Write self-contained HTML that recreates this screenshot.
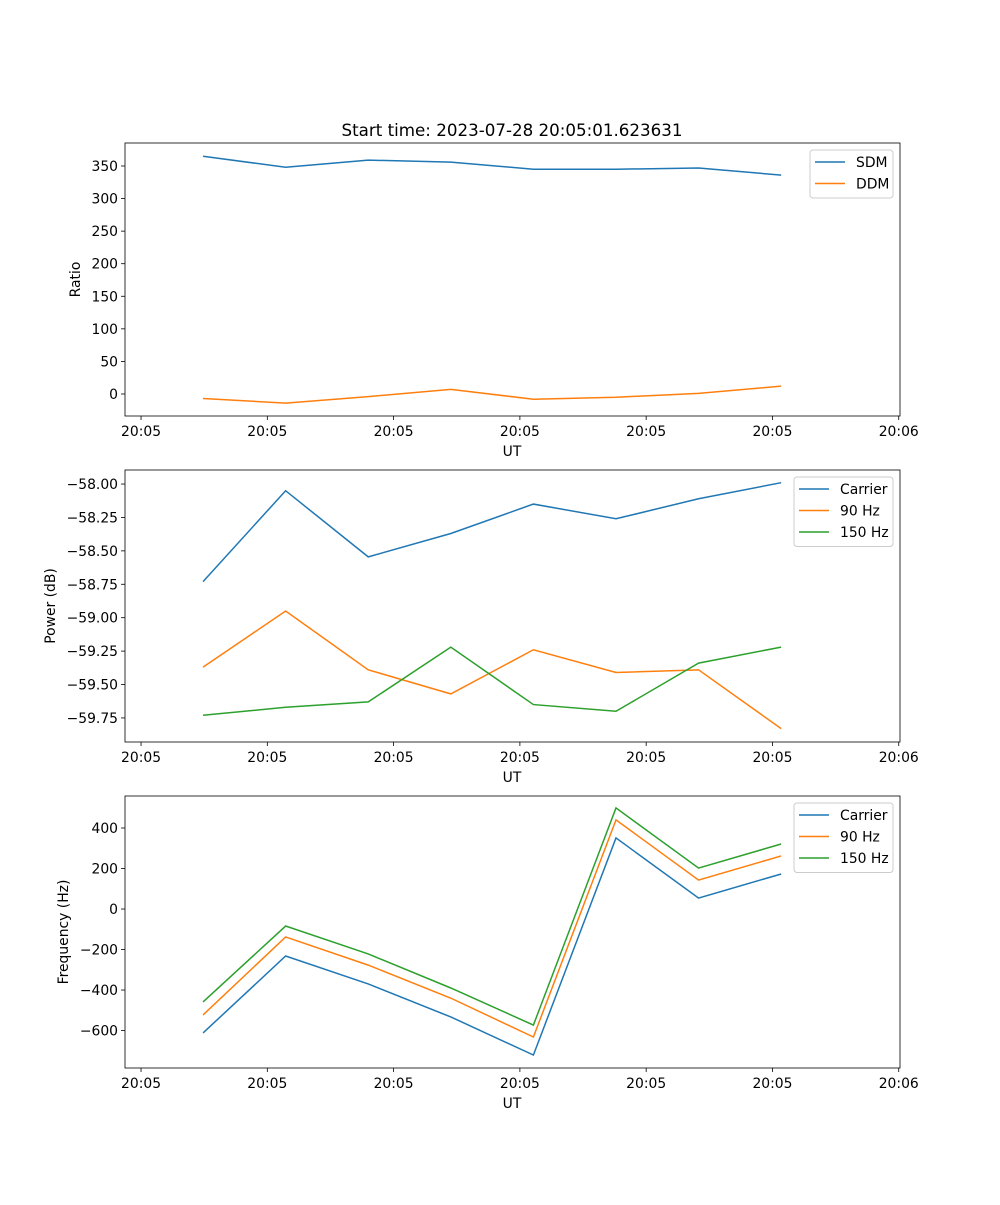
<!DOCTYPE html>
<html><head><meta charset="utf-8"><style>
body{margin:0;background:#fff;}
svg text{font-family:"DejaVu Sans","Liberation Sans",sans-serif;fill:#000;}
</style></head><body>
<svg id="chart" width="1000" height="1200" xmlns="http://www.w3.org/2000/svg"></svg>
<script>
const tickLabels = ["20:05","20:05","20:05","20:05","20:05","20:05","20:06"];
const times = [0.491,1.145,1.799,2.453,3.107,3.761,4.415,5.069];
const sdm = [365,348,359,356,345,345,347,336];
const ddm = [-7,-14,-4,7,-8,-5,1,12];
const powCarrier = [-58.73,-58.05,-58.545,-58.37,-58.15,-58.26,-58.11,-57.99];
const pow90 = [-59.37,-58.95,-59.39,-59.57,-59.24,-59.41,-59.39,-59.83];
const pow150 = [-59.73,-59.67,-59.63,-59.22,-59.65,-59.70,-59.34,-59.22];
const freqCarrier = [-612,-232,-370,-533,-721,351,54,173];
const freq90 = [-523,-138,-277,-440,-632,440,143,262];
const freq150 = [-459,-84,-222,-390,-573,499,202,321];
const ticks1 = [0,50,100,150,200,250,300,350];
const ticks2 = [-59.75,-59.5,-59.25,-59.0,-58.75,-58.5,-58.25,-58.0];
const ticks3 = [-600,-400,-200,0,200,400];

const svg=document.getElementById('chart');
const NS='http://www.w3.org/2000/svg';
function mk(tag,attrs,parent){const e=document.createElementNS(NS,tag);for(const k in attrs)e.setAttribute(k,attrs[k]);(parent||svg).appendChild(e);return e;}
const X0=125,X1=900,xmin=-0.127,xmax=6.01;
function xs(v){return X0+(v-xmin)/(xmax-xmin)*(X1-X0);}
const C=['#1f77b4','#ff7f0e','#2ca02c'];
const FS=13.9;

function panel(name,top,bot,ymin,ymax,yt,fmt,ylabel,ylx,series,names,leg){
  const g=mk('g',{});
  
  
  const ys=v=>bot-(v-ymin)/(ymax-ymin)*(bot-top);
  yt.forEach(t=>{const y=ys(t);
    const l=mk('line',{x1:X0-4,x2:X0,y1:y,y2:y,stroke:'#000','stroke-width':0.8},g);
    
    const tx=mk('text',{x:X0-7,y:y+5,'text-anchor':'end','font-size':FS},g);tx.textContent=fmt(t);
    });
  tickLabels.forEach((lab,i)=>{const x=xs(i);
    const l=mk('line',{x1:x,x2:x,y1:bot,y2:bot+4,stroke:'#000','stroke-width':0.8},g);
    
    const tx=mk('text',{x:x,y:bot+20,'text-anchor':'middle','font-size':FS},g);tx.textContent=lab;
    });
  const xl=mk('text',{x:512,y:bot+40,'text-anchor':'middle','font-size':FS},g);xl.textContent='UT';
  
  const cy=(top+bot)/2;
  const yl=mk('text',{x:0,y:0,'text-anchor':'middle','font-size':FS,transform:`translate(${ylx},${cy}) rotate(-90)`},g);yl.textContent=ylabel;
  
  series.forEach((s,k)=>{
    const p=mk('polyline',{points:s.map((v,i)=>xs(times[i])+','+ys(v)).join(' '),fill:'none',stroke:C[k],'stroke-width':1.5},g);
    
    });
  const fr=mk('rect',{x:X0,y:top,width:X1-X0,height:bot-top,fill:'none',stroke:'#000','stroke-width':0.8},g);
  
  const lg=mk('g',{},g);
  
  mk('rect',{x:leg,y:top+7,width:893-leg,height:names.length*21.5+5,fill:'#fff',stroke:'#ccc',rx:3},lg);
  names.forEach((n,k)=>{const y=top+19+k*21.5;
    mk('line',{x1:leg+5,x2:leg+35,y1:y,y2:y,stroke:C[k],'stroke-width':1.5},lg);
    const t=mk('text',{x:leg+46,y:y+5,'font-size':FS},lg);t.textContent=n;
    });
}
const title=mk('text',{x:512,y:136,'text-anchor':'middle','font-size':16.7});
title.textContent='Start time: 2023-07-28 20:05:01.623631';

panel('ratio',143,416,-33.8,385.3,ticks1,t=>String(t),'Ratio',80,[sdm,ddm],['SDM','DDM'],810);
panel('power',470,742,-59.93,-57.895,ticks2,t=>'\u2212'+Math.abs(t).toFixed(2),'Power (dB)',55,[powCarrier,pow90,pow150],['Carrier','90 Hz','150 Hz'],794);
panel('frequency',796,1068,-785,558,ticks3,t=>t<0?'\u2212'+Math.abs(t):String(t),'Frequency (Hz)',68,[freqCarrier,freq90,freq150],['Carrier','90 Hz','150 Hz'],794);
</script>
</body></html>
